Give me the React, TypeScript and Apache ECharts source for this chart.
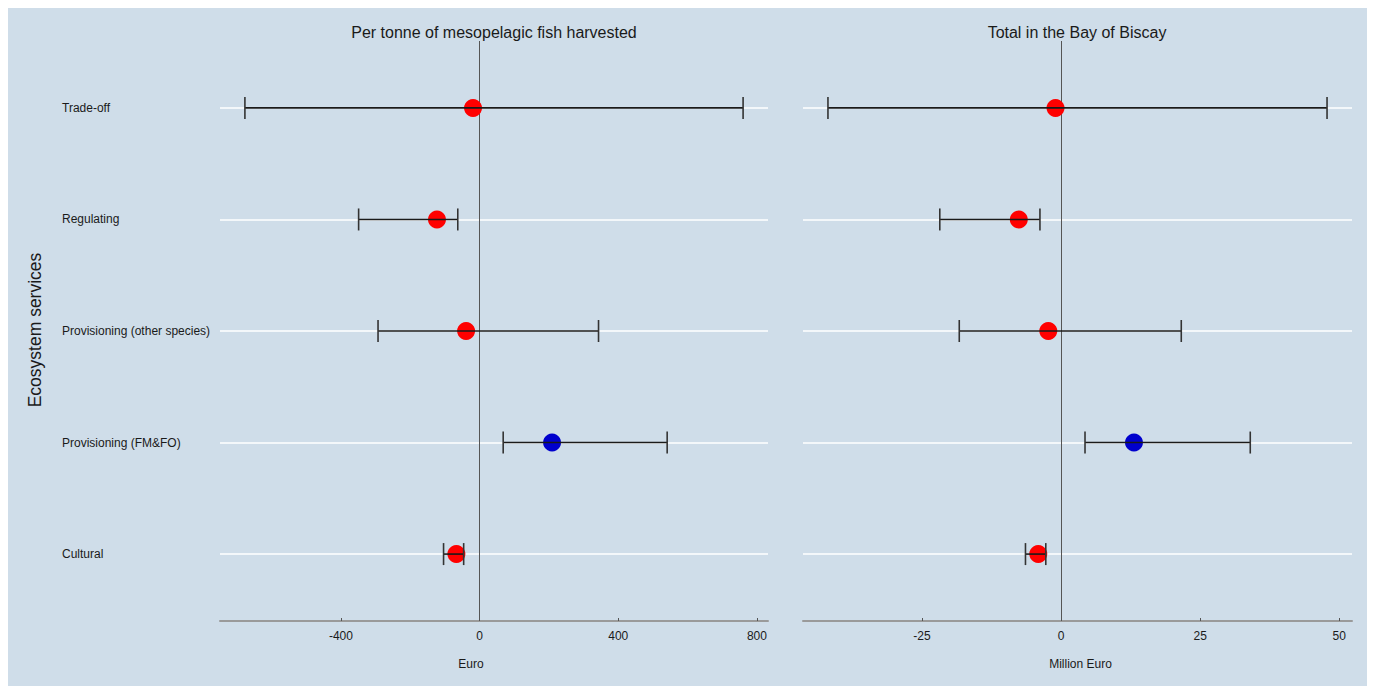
import React, { useEffect, useRef } from "react";
import * as echarts from "echarts";

const categories = [
  "Cultural",
  "Provisioning (FM&FO)",
  "Provisioning (other species)",
  "Regulating",
  "Trade-off",
];
const perTonneMean = [-67, 209, -39, -123, -19];
const perTonneLow = [-104, 68, -293, -349, -677];
const perTonneHigh = [-46, 541, 343, -63, 760];
const totalMean = [-4.1, 13.1, -2.3, -7.6, -1.0];
const totalLow = [-6.4, 4.3, -18.3, -21.8, -41.9];
const totalHigh = [-2.75, 34.0, 21.6, -3.8, 47.8];
const pointColors = ["#ff0000", "#0000cd", "#ff0000", "#ff0000", "#ff0000"];
const euroTicks = [-400, 0, 400, 800];
const millionTicks = [-25, 0, 25, 50];
const panelTitles = ["Per tonne of mesopelagic fish harvested", "Total in the Bay of Biscay"];
const axisTitles = ["Euro", "Million Euro"];
const yTitle = "Ecosystem services";

const FONT = "'Liberation Sans', Arial, Helvetica, sans-serif";
const TEXT = "#1a1a1a";

function expandRange(lo: number[], hi: number[]) {
  const mn = Math.min(...lo);
  const mx = Math.max(...hi);
  const pad = (mx - mn) * 0.05;
  return [mn - pad, mx + pad];
}

function errorBarItem(params: any, api: any) {
  const lo = api.coord([api.value(0), api.value(2)]);
  const hi = api.coord([api.value(1), api.value(2)]);
  const h = 11;
  const st = { stroke: "#1a1a1a", lineWidth: 1.6 };
  return {
    type: "group",
    children: [
      { type: "line", shape: { x1: lo[0], y1: lo[1], x2: hi[0], y2: hi[1] }, style: st },
      { type: "line", shape: { x1: lo[0], y1: lo[1] - h, x2: lo[0], y2: lo[1] + h }, style: { stroke: "#333", lineWidth: 1.6 } },
      { type: "line", shape: { x1: hi[0], y1: hi[1] - h, x2: hi[0], y2: hi[1] + h }, style: { stroke: "#333", lineWidth: 1.6 } },
    ],
  };
}

export default function App() {
  const ref = useRef<HTMLDivElement>(null);
  useEffect(() => {
    if (!ref.current) return;
    const chart = echarts.init(ref.current, null, { renderer: "svg" });
    const ranges = [
      expandRange(perTonneLow, perTonneHigh),
      expandRange(totalLow, totalHigh),
    ];
    const ticks = [euroTicks, millionTicks];
    const means = [perTonneMean, totalMean];
    const lows = [perTonneLow, totalLow];
    const highs = [perTonneHigh, totalHigh];
    const yVals = categories.map((_, i) => i + 1);

    const series: any[] = [];
    [0, 1].forEach((g) => {
      series.push({
        type: "line",
        xAxisIndex: g,
        yAxisIndex: g,
        data: [],
        z: 1,
        silent: true,
        markLine: {
          z: 1,
          silent: true,
          symbol: "none",
          label: { show: false },
          lineStyle: { color: "#ffffff", width: 1.5, type: "solid" },
          data: yVals.map((v) => ({ yAxis: v })),
        },
      });
      series.push({
        type: "line",
        xAxisIndex: g,
        yAxisIndex: g,
        data: [],
        z: 2,
        silent: true,
        markLine: {
          z: 2,
          silent: true,
          symbol: "none",
          label: { show: false },
          lineStyle: { color: "#555555", width: 1, type: "solid" },
          data: [{ xAxis: 0 }],
        },
      });
      series.push({
        type: "scatter",
        xAxisIndex: g,
        yAxisIndex: g,
        z: 3,
        symbol: "circle",
        symbolSize: 18,
        data: means[g].map((v, i) => ({
          value: [v, i + 1],
          itemStyle: { color: pointColors[i], opacity: 1 },
        })),
      });
      series.push({
        type: "custom",
        xAxisIndex: g,
        yAxisIndex: g,
        z: 4,
        renderItem: errorBarItem,
        encode: { x: [0, 1], y: 2 },
        data: categories.map((_, i) => [lows[g][i], highs[g][i], i + 1]),
      });
    });

    const option: any = {
      animation: false,
      backgroundColor: "#cfdde9",
      textStyle: { fontFamily: FONT },
      grid: [
        { left: 212, top: 33, width: 548, height: 580 },
        { left: 795, top: 33, width: 549, height: 580 },
      ],
      xAxis: [0, 1].map((g) => ({
        type: "value",
        gridIndex: g,
        min: ranges[g][0],
        max: ranges[g][1],
        name: axisTitles[g],
        nameLocation: "middle",
        nameGap: 37,
        nameTextStyle: {
          fontSize: 12,
          color: TEXT,
          fontFamily: FONT,
          padding: g === 0 ? [0, 46, 0, 0] : [0, 0, 0, 6],
        },
        axisLine: { show: true, onZero: false, lineStyle: { color: "#9a9a9a", width: 2 } },
        axisTick: {
          show: true,
          inside: true,
          length: 3,
          customValues: ticks[g],
          lineStyle: { color: "#555", width: 1 },
        },
        axisLabel: {
          customValues: ticks[g],
          margin: 9,
          fontSize: 12,
          color: TEXT,
          fontFamily: FONT,
        },
        splitLine: { show: false },
      })),
      yAxis: [0, 1].map((g) => ({
        type: "value",
        gridIndex: g,
        min: 0.4,
        max: 5.6,
        axisLine: { show: false },
        axisTick: { show: false },
        splitLine: { show: false },
        axisLabel: {
          show: g === 0,
          customValues: yVals,
          formatter: (v: number) => categories[Math.round(v) - 1] ?? "",
          align: "left",
          margin: 158,
          fontSize: 12,
          color: TEXT,
          fontFamily: FONT,
        },
      })),
      graphic: [
        {
          type: "text",
          x: 486,
          y: 24,
          style: {
            text: panelTitles[0],
            align: "center",
            verticalAlign: "middle",
            fontSize: 16,
            fill: TEXT,
            fontFamily: FONT,
          },
        },
        {
          type: "text",
          x: 1069,
          y: 24,
          style: {
            text: panelTitles[1],
            align: "center",
            verticalAlign: "middle",
            fontSize: 16,
            fill: TEXT,
            fontFamily: FONT,
          },
        },
        {
          type: "text",
          x: 27,
          y: 322,
          rotation: Math.PI / 2,
          style: {
            text: yTitle,
            align: "center",
            verticalAlign: "middle",
            fontSize: 17.5,
            fill: TEXT,
            fontFamily: FONT,
          },
        },
      ],
      series,
    };
    chart.setOption(option);
    return () => chart.dispose();
  }, []);
  return <div ref={ref} style={{ width: 1362, height: 680 }} />;
}
